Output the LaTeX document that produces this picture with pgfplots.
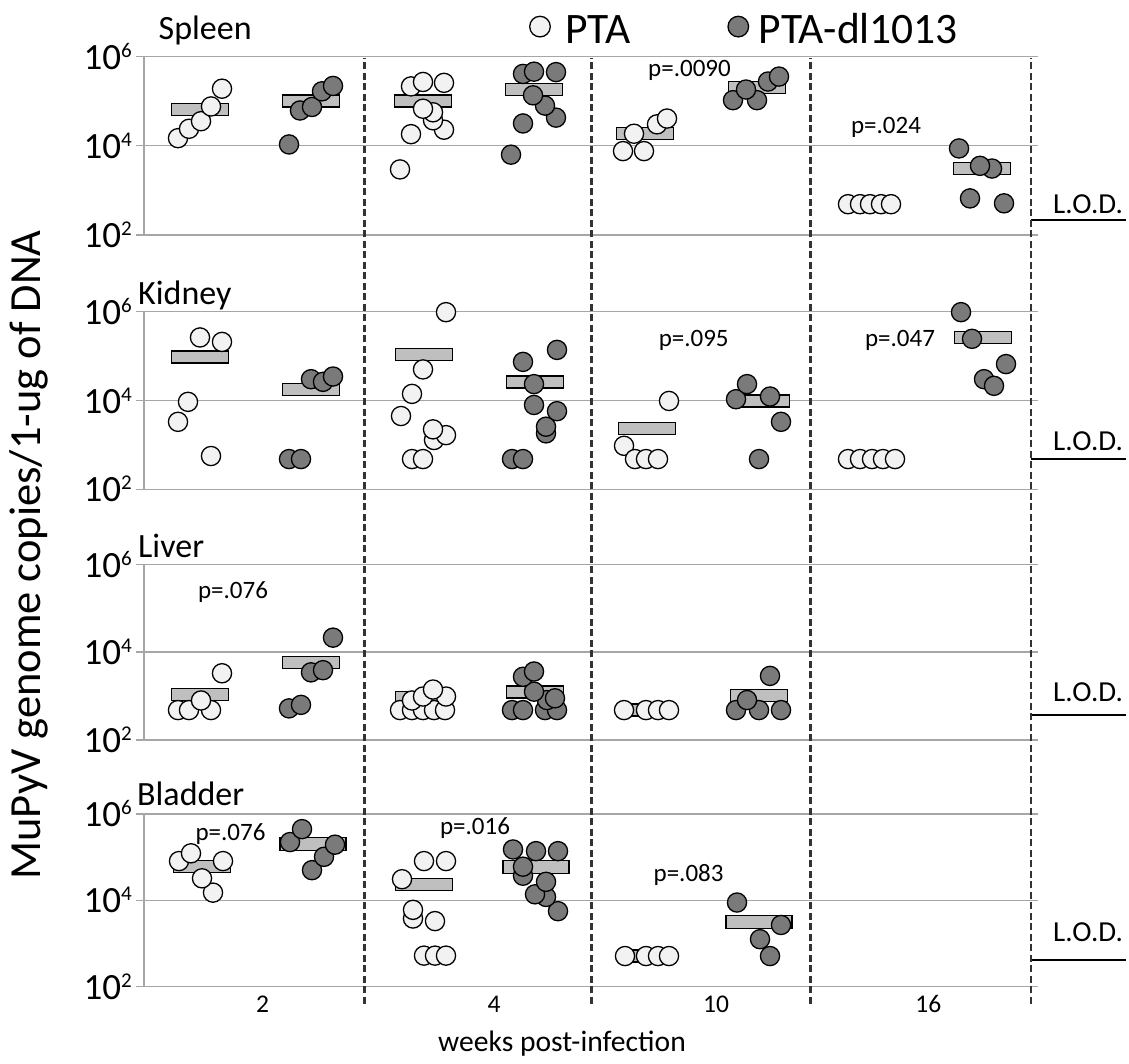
\documentclass[border=0pt]{standalone}
\usepackage{fontspec}
\setmainfont{Carlito}
\usepackage{pgfplots}
\pgfplotsset{compat=1.18}
\definecolor{ptafill}{HTML}{F2F2F2}
\definecolor{dlfill}{HTML}{7A7A7A}
\definecolor{barfill}{HTML}{BFBFBF}
\definecolor{gridc}{HTML}{A6A6A6}
\definecolor{dashc}{HTML}{333333}
\pgfdeclareplotmark{mbar}{\pgfpathrectangle{\pgfqpoint{-28.5pt}{-6pt}}{\pgfqpoint{57pt}{12pt}}\pgfusepathqfillstroke}
\pgfdeclareplotmark{mbarw}{\pgfpathrectangle{\pgfqpoint{-33pt}{-6.5pt}}{\pgfqpoint{66pt}{13pt}}\pgfusepathqfillstroke}
\newcommand\tp[1]{10\raisebox{12pt}{\fontsize{21}{21}\selectfont #1}}
\pgfplotsset{
  mypanel/.style={
    scale only axis, width=894pt, xmin=144, xmax=1038,
    ymin=1e2, ymax=1e6, clip=false,
    axis x line=none, axis y line*=left,
    y axis line style={draw=gridc, line width=1.4pt},
    ytick={1e2,1e4,1e6}, yticklabels={\tp{2},\tp{4},\tp{6}},
    yticklabel style={font=\fontsize{37}{40}\selectfont, anchor=east, inner sep=0pt, xshift=-4pt},
    ytick style={draw=gridc, line width=1.4pt},
    tick align=outside, major tick length=8pt,
    ymajorgrids, grid style={draw=gridc, line width=1.4pt},
    xtick=\empty,
  },
}
\tikzset{
  mybars/.style={only marks, mark=mbar, mark options={fill=barfill, draw=black, line width=1.3pt}},
  mybarsw/.style={only marks, mark=mbarw, mark options={fill=barfill, draw=black, line width=1.3pt}},
  mypta/.style={only marks, mark=*, mark size=9.6pt, mark options={fill=ptafill, draw=black, line width=1.3pt}},
  mydl/.style={only marks, mark=*, mark size=9.6pt, mark options={fill=dlfill, draw=black, line width=1.3pt}},
  mylod/.style={black, line width=2.8pt, no marks},
  mydash/.style={dashc, line width=2.4pt, dash pattern=on 7pt off 3.5pt, no marks},
}
\begin{document}
\begin{tikzpicture}
\path[use as bounding box] (0,0) rectangle (1129pt,-1063pt);
% ---------- Spleen
\begin{semilogyaxis}[mypanel, at={(144pt,-235pt)}, anchor=south west, height=178.5pt]
\addplot[mybars] coordinates {(200,66000) (311,100000) (423,100000) (534,182000) (645,18600) (757,200000) (982,3090)};
\addplot[mypta] coordinates {(178,14800)(189,24000)(201,35500)(211,76000)(222,190000)
 (400,2950)(411,18200)(444,22900)(433,37200)(433,56200)(423,67600)(411,214000)(444,257000)(423,269000)
 (623,7590)(644,7590)(634,18600)(657,30200)(667,40700)
 (848,490)(860,490)(870,490)(881,490)(891,490)};
\addplot[mydl] coordinates {(289,10700)(300,61700)(312,74000)(322,166000)(333,219000)
 (511,6310)(523,31600)(556,42700)(545,79400)(533,135000)(523,407000)(556,447000)(534,457000)
 (733,105000)(757,105000)(746,182000)(768,275000)(779,355000)
 (970,661)(1004,513)(992,3090)(980,3550)(959,8710)};
\addplot[mylod] coordinates {(1031,216)(1126,216)};
\addplot[mypta, mark size=10.3pt] coordinates {(540,4.68e6)};
\addplot[mydl, mark size=10.3pt] coordinates {(738.3,4.68e6)};
\end{semilogyaxis}
% ---------- Kidney
\begin{semilogyaxis}[mypanel, at={(144pt,-489.3pt)}, anchor=south west, height=177.6pt]
\addplot[mybars] coordinates {(200,95500)(311,17400)(424,110000)(535,26300)(647,2340)(761,9770)(983,263000)};
\addplot[mypta] coordinates {(211,562)(178,3310)(188,9330)(222,209000)(200,263000)
 (412,480)(423,480)(434,1290)(446,1660)(433,2240)(401,4470)(412,14100)(423,50100)(446,977000)
 (624,955)(635,480)(646,480)(658,480)(669,9770)
 (848,480)(860,480)(872,480)(883,480)(895,480)};
\addplot[mydl] coordinates {(289,480)(301,480)(311,30200)(323,26300)(333,34700)
 (512,480)(523,480)(546,1820)(546,2570)(557,5750)(534,7940)(534,23400)(523,74100)(557,138000)
 (759,480)(781,3310)(736,10700)(770,12300)(747,23400)
 (984,30200)(994,21400)(1006,66100)(972,245000)(961,977000)};
\addplot[mylod] coordinates {(1031,480)(1126,480)};
\end{semilogyaxis}
% ---------- Liver
\begin{semilogyaxis}[mypanel, at={(144pt,-740pt)}, anchor=south west, height=175.7pt]
\addplot[mybars] coordinates {(200,1100)(311,5890)(424,912)(535,1230)(647,480)(759,1023)};
\addplot[mypta] coordinates {(178,480)(189,480)(211,480)(201,794)(222,3310)
 (400,480)(412,480)(423,480)(434,480)(445,480)(412,794)(423,977)(446,977)(433,1410)
 (624,480)(646,480)(658,480)(669,480)};
\addplot[mydl] coordinates {(289,525)(301,631)(311,3470)(323,3890)(333,21400)
 (512,480)(523,480)(545,480)(557,480)(547,813)(555,891)(534,1260)(523,2750)(534,3630)
 (736,480)(759,480)(781,480)(747,813)(770,2880)};
\addplot[mylod] coordinates {(1031,371)(1126,371)};
\end{semilogyaxis}
% ---------- Bladder
\begin{semilogyaxis}[mypanel, at={(144pt,-986.7pt)}, anchor=south west, height=172.7pt]
\addplot[mybars] coordinates {(202,60300)(424,22900)(647,513)};
\addplot[mybarsw] coordinates {(313,200000)(536,58900)(759,3160)};
\addplot[mypta] coordinates {(213,15100)(202,32400)(179,81300)(223,81300)(191,123000)
 (424,525)(435,525)(446,525)(435,3310)(413,3800)(413,6030)(402,30900)(424,81300)(446,81300)
 (625,513)(646,513)(658,513)(669,513)};
\addplot[mydl] coordinates {(558,5620)(546,12000)(535,13800)(546,26900)(523,37200)(523,60300)(558,138000)(536,138000)(513,151000)
 (312,50100)(324,102000)(335,195000)(290,224000)(302,447000)
 (770,513)(760,1260)(781,2690)(737,8910)};
\addplot[mylod] coordinates {(1031,417)(1126,417)};
\addplot[mydash] coordinates {(364.4,40)(364.4,3.2e23)};
\addplot[mydash] coordinates {(591.6,40)(591.6,3.2e23)};
\addplot[mydash] coordinates {(810.5,40)(810.5,3.2e23)};
\addplot[mydash] coordinates {(1031,40)(1031,3.2e23)};
\end{semilogyaxis}
% ---------- texts
\begin{scope}[every node/.style={inner sep=0pt}]
\node[anchor=base west, font=\fontsize{34}{38}\selectfont] at (158.5pt,-39pt) {Spleen};
\node[anchor=base west, font=\fontsize{34}{38}\selectfont] at (138pt,-304pt) {Kidney};
\node[anchor=base west, font=\fontsize{34}{38}\selectfont] at (138pt,-557pt) {Liver};
\node[anchor=base west, font=\fontsize{34}{38}\selectfont] at (137pt,-805pt) {Bladder};
\node[anchor=base west, font=\fontsize{43.5}{48}\selectfont] at (565pt,-43.3pt) {PTA};
\node[anchor=base west, font=\fontsize{43.5}{48}\selectfont] at (758.5pt,-43.3pt) {PTA-dl1013};
\node[rotate=90, font=\fontsize{44.5}{48}\selectfont] at (29pt,-555pt) {MuPyV genome copies/1-ug of DNA};
\node[anchor=base, font=\fontsize{29.6}{34}\selectfont] at (562pt,-1051.7pt) {weeks post-infection};
\foreach \px/\tx in {262.7/2, 494/4, 716/10, 928.3/16}
  \node[anchor=base, font=\fontsize{25.5}{30}\selectfont] at (\px pt,-1012.7pt) {\tx};
\foreach \px/\py/\tx in {689.5/76.7/.0090, 886/133.3/.024, 693.7/346.7/.095, 900/346.7/.047,
   233/598.3/.076, 230.5/840/.076, 475/834.3/.016, 688.6/881.7/.083}
  \node[anchor=base, font=\fontsize{25}{28}\selectfont] at (\px pt,-\py pt) {p=\tx};
\foreach \py in {213.3,450,701.7,941.7}
  \node[anchor=base west, font=\fontsize{29}{31}\selectfont] at (1053pt,-\py pt) {L.O.D.};
\end{scope}
\end{tikzpicture}
\end{document}
